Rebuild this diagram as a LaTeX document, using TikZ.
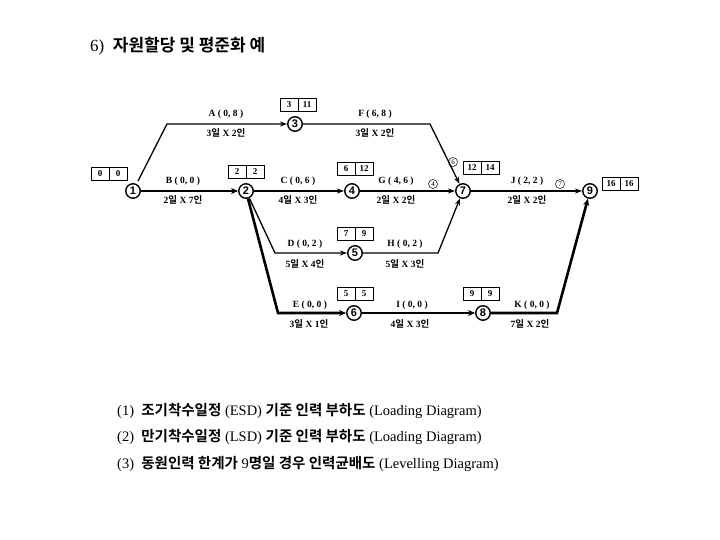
\documentclass[tikz,border=0pt]{standalone}
\usepackage{fontspec}
\setmainfont{Liberation Serif}
\newfontfamily\kofont{Noto Sans CJK KR}[BoldFont={Noto Sans CJK KR Bold}]
\newfontfamily\numfont{Liberation Sans}
\usetikzlibrary{arrows.meta}
\newcommand\ko[1]{{\kofont\bfseries #1}}
\newcommand\dur[2]{#1\ko{일} X #2\ko{인}}
\tikzset{
  evt/.style={circle,draw,line width=1.4pt,inner sep=0pt,minimum size=14.5pt,font=\numfont\bfseries\fontsize{11}{11}\selectfont},
  cell/.style={rectangle,draw,line width=0.9pt,minimum width=18pt,minimum height=13pt,inner sep=0pt,font=\bfseries\fontsize{9}{9}\selectfont},
  lab/.style={font=\bfseries\fontsize{9.5}{10}\selectfont,inner sep=0pt},
  small/.style={circle,draw,line width=0.5pt,inner sep=0pt,minimum size=9pt,font=\fontsize{7}{7}\selectfont},
  arr/.style={line width=1.3pt,-{Stealth[length=7pt,width=5pt]}},
  crit/.style={line width=2.6pt,-{Stealth[length=7pt,width=6pt]}},
  body/.style={anchor=west,inner sep=0pt,font=\fontsize{14.5}{15}\selectfont},
}
\begin{document}
\begin{tikzpicture}[x=1pt,y=-1pt]
\useasboundingbox (0,0) rectangle (720,540);
% title
\node[anchor=west,inner sep=0pt,font=\fontsize{17}{18}\selectfont] (title) at (90,46) {6)~~\ko{자원할당 및 평준화 예}};
% events
\node[evt] (n1) at (133,191) {1};
\node[evt] (n2) at (246,191) {2};
\node[evt] (n3) at (295,124) {3};
\node[evt] (n4) at (352,191) {4};
\node[evt] (n5) at (355,253) {5};
\node[evt] (n6) at (354,313) {6};
\node[evt] (n7) at (463,191) {7};
\node[evt] (n8) at (483,313) {8};
\node[evt] (n9) at (590,191) {9};
% boxes
\node[cell] (b1a) at (100,174) {0};  \node[cell] (b1b) at (118,174) {0};
\node[cell] (b2a) at (237,172) {2};  \node[cell] (b2b) at (255,172) {2};
\node[cell] (b3a) at (289,104.5) {3};  \node[cell] (b3b) at (307,104.5) {11};
\node[cell] (b4a) at (346,168.5) {6};  \node[cell] (b4b) at (364,168.5) {12};
\node[cell] (b5a) at (346,234) {7};  \node[cell] (b5b) at (364,234) {9};
\node[cell] (b6a) at (346,294) {5};  \node[cell] (b6b) at (364,294) {5};
\node[cell] (b7a) at (472,168) {12};  \node[cell] (b7b) at (490,168) {14};
\node[cell] (b8a) at (472,294) {9};  \node[cell] (b8b) at (490,294) {9};
\node[cell] (b9a) at (611,184) {16};  \node[cell] (b9b) at (629,184) {16};
% corner coordinates
\coordinate (cA1) at (138,181);
\coordinate (cA) at (167,124);
\coordinate (cF) at (430,124);
\coordinate (cD) at (275,253);
\coordinate (cE) at (278,313);
\coordinate (cH) at (438,253);
\coordinate (cK) at (557,313);
% activities
\draw[arr] (cA1) -- (cA) -- (n3);
\draw[arr] (n3) -- (cF) -- (n7);
\draw[crit] (n1) -- (n2);
\draw[arr] (n2) -- (n4);
\draw[arr] (n4) -- (n7);
\draw[arr] (n7) -- (n9);
\draw[arr] (n2) -- (cD) -- (n5);
\draw[arr] (n5) -- (cH) -- (n7);
\draw[crit] (n2) -- (cE) -- (n6);
\draw[crit] (n6) -- (n8);
\draw[crit] (n8) -- (cK) -- (n9);
% labels
\node[lab] (lA) at (226,114) {A ( 0, 8 )};
\node[lab] (dA) at (226,133) {\dur{3}{2}};
\node[lab] (lF) at (375,114) {F ( 6, 8 )};
\node[lab] (dF) at (375,133) {\dur{3}{2}};
\node[lab] (lB) at (183,181) {B ( 0, 0 )};
\node[lab] (dB) at (183,200) {\dur{2}{7}};
\node[lab] (lC) at (298,181) {C ( 0, 6 )};
\node[lab] (dC) at (298,200) {\dur{4}{3}};
\node[lab] (lG) at (396,181) {G ( 4, 6 )};
\node[lab] (dG) at (396,200) {\dur{2}{2}};
\node[lab] (lJ) at (527,181) {J ( 2, 2 )};
\node[lab] (dJ) at (527,200) {\dur{2}{2}};
\node[lab] (lD) at (305,244) {D ( 0, 2 )};
\node[lab] (dD) at (305,264) {\dur{5}{4}};
\node[lab] (lH) at (405,244) {H ( 0, 2 )};
\node[lab] (dH) at (405,264) {\dur{5}{3}};
\node[lab] (lE) at (310,305) {E ( 0, 0 )};
\node[lab] (dE) at (309,324) {\dur{3}{1}};
\node[lab] (lI) at (412,305) {I ( 0, 0 )};
\node[lab] (dI) at (410,324) {\dur{4}{3}};
\node[lab] (lK) at (532,305) {K ( 0, 0 )};
\node[lab] (dK) at (530,324) {\dur{7}{2}};
% small float markers
\node[small] (s4) at (433,184) {4};
\node[small] (s6) at (453,162) {6};
\node[small] (s7) at (560,184) {7};
% bottom text
\node[body] (t1) at (117,411) {(1)~~\ko{조기착수일정} (ESD) \ko{기준 인력 부하도} (Loading Diagram)};
\node[body] (t2) at (117,437) {(2)~~\ko{만기착수일정} (LSD) \ko{기준 인력 부하도} (Loading Diagram)};
\node[body] (t3) at (117,464) {(3)~~\ko{동원인력 한계가} 9\ko{명일 경우 인력균배도} (Levelling Diagram)};
\end{tikzpicture}
\end{document}
